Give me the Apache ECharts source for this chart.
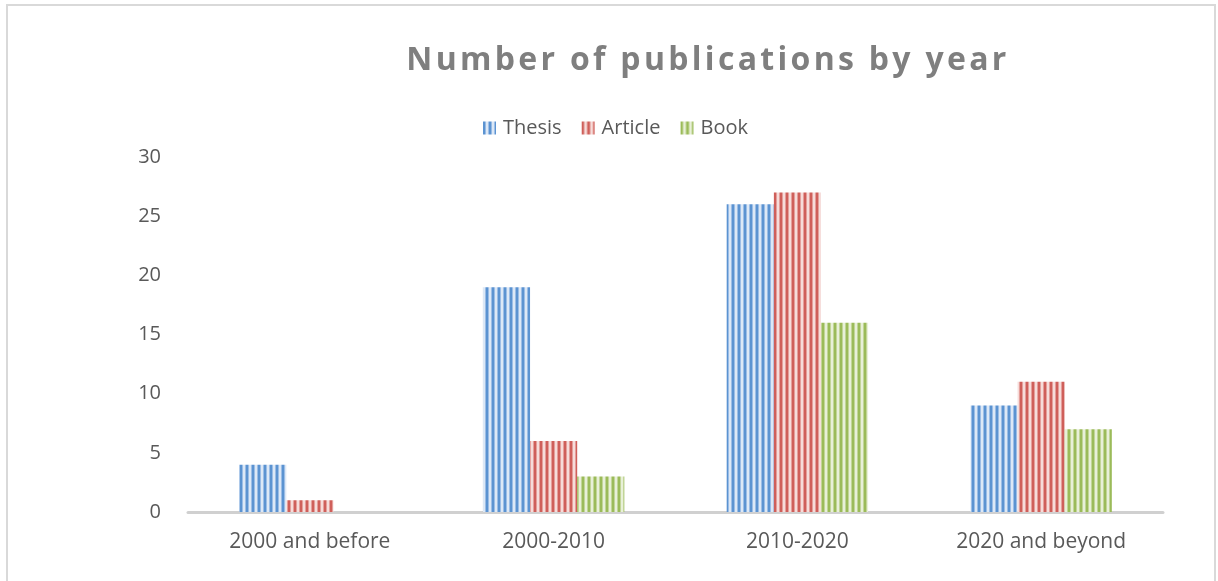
<!DOCTYPE html>
<html>
<head>
<meta charset="utf-8">
<script src="https://cdn.jsdelivr.net/npm/echarts@6/dist/echarts.min.js"></script>
<style>
  html, body { margin: 0; padding: 0; background: #fff; }
  #main { width: 1218px; height: 581px; }
</style>
</head>
<body>
<div id="main"></div>
<script>
var categories = ['2000 and before', '2000-2010', '2010-2020', '2020 and beyond'];
var seriesNames = ['Thesis', 'Article', 'Book'];
var thesis = [4, 19, 26, 9];
var article = [1, 6, 27, 11];
var book = [0, 3, 16, 7];

// the title is drawn letter-spaced, canvas can do that itself
var origFillText = CanvasRenderingContext2D.prototype.fillText;
CanvasRenderingContext2D.prototype.fillText = function (t, x, y, w) {
    if (this.font.indexOf('32px') != -1) {
        this.letterSpacing = '3.3px';
    } else {
        this.letterSpacing = '0px';
    }
    return w === undefined ? origFillText.call(this, t, x, y) : origFillText.call(this, t, x, y, w);
};

// vertical stripes like the office chart fill
function stripes(dark, mid, light) {
    var c = document.createElement('canvas');
    c.width = 6;
    c.height = 4;
    var ctx = c.getContext('2d');
    var cols = [dark, dark, mid, light, light, mid];
    for (var i = 0; i < cols.length; i++) {
        ctx.fillStyle = cols[i];
        ctx.fillRect(i, 0, 1, 4);
    }
    return { image: c, repeat: 'repeat' };
}

var blue = stripes('#5b93d1', '#9bbde6', '#dce8f6');
var red = stripes('#cf5f5a', '#e49f9b', '#f6dcda');
var green = stripes('#9bbb59', '#c2d597', '#e8f0d8');

var myChart = echarts.init(document.getElementById('main'));

var option = {
    backgroundColor: '#ffffff',
    title: {
        text: 'Number of publications by year',
        left: 703,
        top: 40,
        textAlign: 'center',
        textStyle: {
            fontFamily: 'Open Sans',
            fontSize: 32,
            fontWeight: 'bold',
            color: '#7f7f7f'
        }
    },
    legend: {
        data: seriesNames,
        left: 478,
        top: 113,
        itemWidth: 13,
        itemHeight: 13,
        itemGap: 20,
        icon: 'rect',
        textStyle: {
            fontFamily: 'Open Sans',
            fontSize: 20,
            color: '#595959',
            padding: [0, 0, 0, 2]
        }
    },
    grid: {
        left: 188,
        right: 55,
        top: 157,
        bottom: 69
    },
    xAxis: {
        type: 'category',
        data: categories,
        axisLine: { lineStyle: { color: '#d0d0d0', width: 3 } },
        axisTick: { show: false },
        axisLabel: {
            margin: 20,
            fontFamily: 'Open Sans',
            fontSize: 21,
            color: '#595959'
        }
    },
    yAxis: {
        type: 'value',
        min: 0,
        max: 30,
        interval: 5,
        axisLine: { show: false },
        axisTick: { show: false },
        splitLine: { show: false },
        axisLabel: {
            margin: 27,
            fontFamily: 'Open Sans',
            fontSize: 20,
            color: '#595959'
        }
    },
    graphic: [{
        type: 'rect',
        shape: { x: 7, y: 5, width: 1208, height: 600 },
        style: { fill: 'none', stroke: '#d9d9d9', lineWidth: 2 },
        silent: true
    }],
    series: [
        { name: 'Thesis', type: 'bar', data: thesis, barGap: '0%', barCategoryGap: '42%', itemStyle: { color: blue } },
        { name: 'Article', type: 'bar', data: article, barGap: '0%', barCategoryGap: '42%', itemStyle: { color: red } },
        { name: 'Book', type: 'bar', data: book, barGap: '0%', barCategoryGap: '42%', itemStyle: { color: green } }
    ]
};

myChart.setOption(option);
</script>
</body>
</html>
